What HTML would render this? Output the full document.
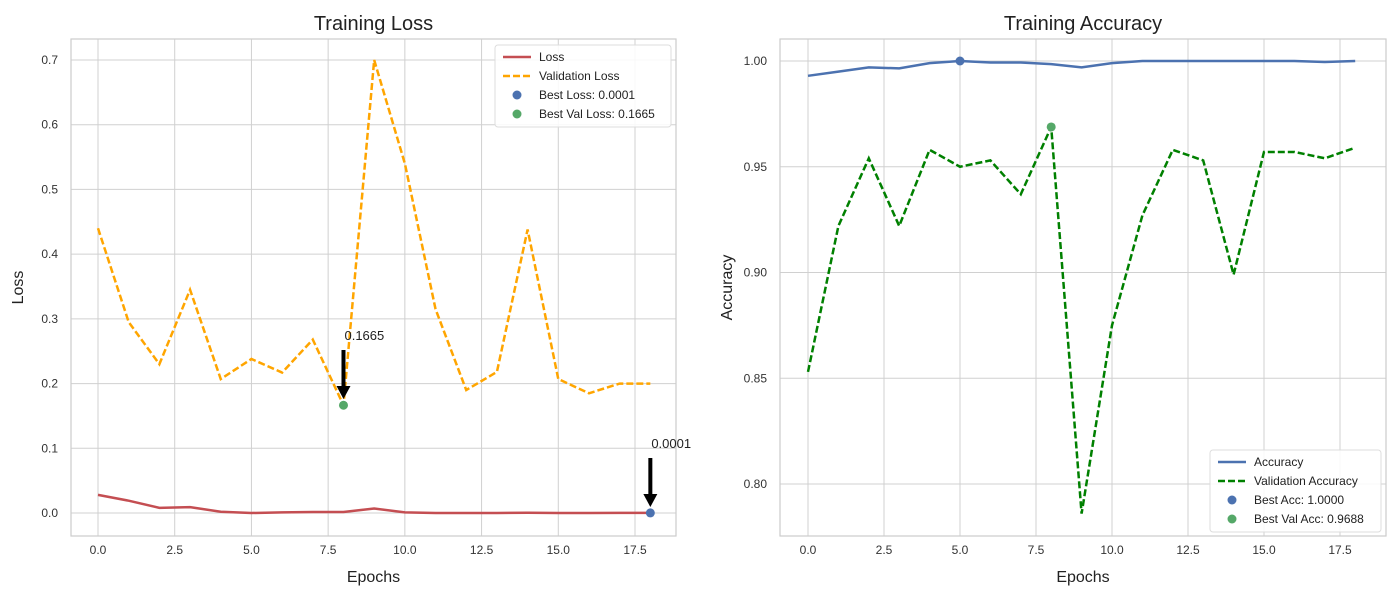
<!DOCTYPE html>
<html><head><meta charset="utf-8"><style>
body{margin:0;background:#fff;}
svg{font-family:"Liberation Sans","DejaVu Sans",sans-serif;}
</style></head><body>
<svg id="c" width="1400" height="600"></svg>
<script>
const epochs=[0,1,2,3,4,5,6,7,8,9,10,11,12,13,14,15,16,17,18];
const lossVals=[0.028,0.019,0.008,0.009,0.002,0.0,0.001,0.0015,0.0015,0.007,0.001,0,0,0,0.0003,0,0,0.0002,0.0001];
const valLossVals=[0.44,0.295,0.23,0.345,0.207,0.238,0.217,0.268,0.1665,0.70,0.54,0.315,0.19,0.218,0.438,0.207,0.185,0.2,0.2];
const accVals=[0.993,0.995,0.997,0.9965,0.999,1.0,0.9993,0.9993,0.9985,0.997,0.999,1,1,1,1,1,1,0.9995,1];
const valAccVals=[0.853,0.922,0.954,0.922,0.958,0.950,0.953,0.937,0.9688,0.786,0.875,0.927,0.958,0.953,0.899,0.957,0.957,0.954,0.959];
const xTicks=[0,2.5,5,7.5,10,12.5,15,17.5];
const lossTicks=[0,0.1,0.2,0.3,0.4,0.5,0.6,0.7];
const accTicks=[0.80,0.85,0.90,0.95,1.00];
const NS="http://www.w3.org/2000/svg";
const svg=document.getElementById('c');
function mk(tag,attrs,parent,text){const e=document.createElementNS(NS,tag);for(const k in attrs)e.setAttribute(k,attrs[k]);if(text!==undefined)e.textContent=text;(parent||svg).appendChild(e);return e;}
function panel(o){
 const g=mk('g',{});
 
 
 const X=v=>o.x0+(v-0)*(o.x175-o.x0)/17.5;
 const Y=v=>o.yA+(v-o.vA)*(o.yB-o.yA)/(o.vB-o.vA);
 o.xTicks.forEach(t=>{mk('line',{x1:X(t),x2:X(t),y1:o.top,y2:o.bot,stroke:'#d0d0d0','stroke-width':1},g);
  const l=mk('text',{x:X(t),y:o.bot+18,'font-size':12,'text-anchor':'middle',fill:'#333'},g,t.toFixed(1));
  });
 o.yTicks.forEach(t=>{mk('line',{x1:o.left,x2:o.right,y1:Y(t),y2:Y(t),stroke:'#d0d0d0','stroke-width':1},g);
  const l=mk('text',{x:o.left-13,y:Y(t)+4,'font-size':12,'text-anchor':'end',fill:'#333'},g,t.toFixed(o.dec));
  });
 mk('rect',{x:o.left,y:o.top,width:o.right-o.left,height:o.bot-o.top,fill:'none',stroke:'#ccc','stroke-width':1.2},g);
 const t=mk('text',{x:(o.left+o.right)/2,y:30,'font-size':20,'text-anchor':'middle',fill:'#222'},g,o.title);
 
 const xl=mk('text',{x:(o.left+o.right)/2,y:582,'font-size':16,'text-anchor':'middle',fill:'#222'},g,'Epochs');
 
 const yx=o.left-48, yy=(o.top+o.bot)/2;
 const yl=mk('text',{x:yx,y:yy,'font-size':16,'text-anchor':'middle',fill:'#222',transform:`rotate(-90 ${yx} ${yy})`},g,o.ylabel);
 
 o.series.forEach(s=>{
  const p=mk('polyline',{points:epochs.map((e,i)=>X(e)+','+Y(s.vals[i])).join(' '),fill:'none',stroke:s.color,'stroke-width':2.5,'stroke-dasharray':s.dash||''},g);
  
 });
 o.points.forEach(pt=>{
  const c=mk('circle',{cx:X(pt.x),cy:Y(pt.y),r:4.5,fill:pt.color},g);
  
 });
 return {g,X,Y};
}
const L=panel({name:'loss-chart',title:'Training Loss',ylabel:'Loss',left:71,right:676,top:39,bot:536,x0:98,x175:635,yA:513,vA:0,yB:60,vB:0.7,xTicks,yTicks:lossTicks,dec:1,
 series:[{name:'loss-line',vals:lossVals,color:'#c44e52'},{name:'val-loss-line',vals:valLossVals,color:'#ffa500',dash:'7,3'}],
 points:[{name:'best-loss-point',x:18,y:lossVals[18],color:'#4c72b0'},{name:'best-val-loss-point',x:8,y:valLossVals[8],color:'#55a868'}]});
function arrow(g,x,y1,y2,label,name){
 const a=mk('g',{},g);
 mk('rect',{x:x-2,y:y1,width:4,height:y2-y1-12,fill:'#000'},a);
 mk('polygon',{points:`${x-7},${y2-13} ${x+7},${y2-13} ${x},${y2}`,fill:'#000'},a);
 mk('text',{x:x+1,y:y1-10,'font-size':13,fill:'#222'},a,label);
}
arrow(L.g,L.X(8),350,399,valLossVals[8].toFixed(4),'best-val-loss-annotation');
arrow(L.g,L.X(18),458,507,lossVals[18].toFixed(4),'best-loss-annotation');
const R=panel({name:'accuracy-chart',title:'Training Accuracy',ylabel:'Accuracy',left:780,right:1386,top:39,bot:536,x0:808,x175:1340,yA:61,vA:1.0,yB:484,vB:0.8,xTicks,yTicks:accTicks,dec:2,
 series:[{name:'accuracy-line',vals:accVals,color:'#4c72b0'},{name:'val-accuracy-line',vals:valAccVals,color:'#008000',dash:'7,3'}],
 points:[{name:'best-acc-point',x:5,y:accVals[5],color:'#4c72b0'},{name:'best-val-acc-point',x:8,y:valAccVals[8],color:'#55a868'}]});
function legend(g,x,y,w,items,name){
 const lg=mk('g',{},g);
 mk('rect',{x,y,width:w,height:items.length*19+6,fill:'#fff','fill-opacity':0.85,stroke:'#ddd',rx:3},lg);
 items.forEach((it,i)=>{const cy=y+12+i*19;
  const e=mk('g',{},lg);
  if(it.type==='line')mk('line',{x1:x+8,x2:x+36,y1:cy,y2:cy,stroke:it.color,'stroke-width':2.5,'stroke-dasharray':it.dash||''},e);
  else mk('circle',{cx:x+22,cy,r:4.5,fill:it.color},e);
  mk('text',{x:x+44,y:cy+4,'font-size':12,fill:'#222'},e,it.label);});
}
legend(L.g,495,45,176,[{type:'line',color:'#c44e52',label:'Loss'},{type:'line',color:'#ffa500',dash:'7,3',label:'Validation Loss'},{type:'dot',color:'#4c72b0',label:'Best Loss: 0.0001'},{type:'dot',color:'#55a868',label:'Best Val Loss: 0.1665'}],'loss-legend');
legend(R.g,1210,450,171,[{type:'line',color:'#4c72b0',label:'Accuracy'},{type:'line',color:'#008000',dash:'7,3',label:'Validation Accuracy'},{type:'dot',color:'#4c72b0',label:'Best Acc: 1.0000'},{type:'dot',color:'#55a868',label:'Best Val Acc: 0.9688'}],'accuracy-legend');
</script>
</body></html>
